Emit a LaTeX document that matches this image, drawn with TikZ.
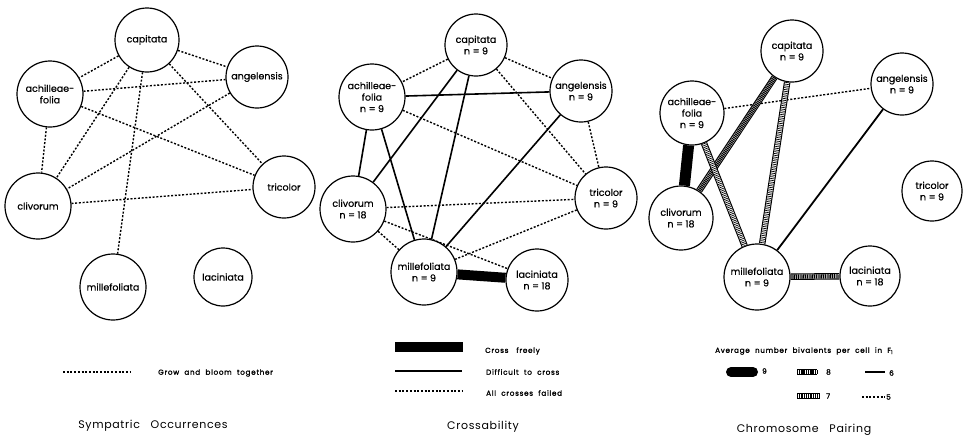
\documentclass[tikz,border=0pt]{standalone}
\usepackage{fontspec}
\setmainfont{Poppins}
\newfontfamily\labfont{Poppins}[FakeBold=0.6]
\newfontfamily\legfont{Poppins}[LetterSpace=6]
\newfontfamily\legbfont{Poppins}[LetterSpace=10,FakeBold=1.6]
\begin{document}
\begin{tikzpicture}[x=1pt,y=-1pt,
  sp/.style={circle,draw,line width=1.2pt,fill=white,inner sep=0pt,align=center,
    font=\labfont\fontsize{9.5}{11.5}\selectfont,minimum size=#1},
  dot/.style={line width=1.4pt,dash pattern=on 2pt off 1.7pt},
  diff/.style={line width=1.6pt},
  free/.style={line width=10pt},
  hatchA/.style={line width=6.5pt,draw=black,
    postaction={draw=white,line width=4.3pt},
    postaction={draw=black,line width=4.3pt,dash pattern=on 0.7pt off 1.1pt}},
  hatchB/.style={line width=6.5pt,draw=black,
    postaction={draw=white,line width=4.3pt},
    postaction={draw=black,line width=4.3pt,dash pattern=on 1.1pt off 0.7pt}},
  leg/.style={font=\legbfont\fontsize{7.2}{8}\selectfont,anchor=west,inner sep=0pt},
  ttl/.style={font=\legfont\fontsize{11}{13}\selectfont,inner sep=0pt}
]
\useasboundingbox (0,0) rectangle (973,440);

% ---------- Panel 1: Sympatric occurrences ----------
\node[sp=64pt] (a1) at (147,40) {capitata};
\node[sp=62pt] (b1) at (257,77) {angelensis};
\node[sp=66pt] (c1) at (50,94) {achilleae-\\folia};
\node[sp=62pt] (d1) at (284,187) {tricolor};
\node[sp=66pt] (e1) at (38,206) {clivorum};
\node[sp=66pt] (f1) at (113,287) {millefoliata};
\node[sp=58pt] (g1) at (223,277) {laciniata};
\draw[dot] (a1) -- (c1);
\draw[dot] (a1) -- (b1);
\draw[dot] (a1) -- (d1);
\draw[dot] (a1) -- (e1);
\draw[dot] (a1) -- (f1);
\draw[dot] (c1) -- (b1);
\draw[dot] (c1) -- (d1);
\draw[dot] (c1) -- (e1);
\draw[dot] (b1) -- (e1);
\draw[dot] (e1) -- (d1);
\coordinate (l1a) at (63,372);
\coordinate (l1b) at (130,372);
\draw[dot] (l1a) -- (l1b);
\node[leg] (l1t) at (158,373) {Grow\ \ and\ \ bloom\ \ together};
\node[ttl] (t1) at (153,426) {Sympatric\ \ \ Occurrences};

% ---------- Panel 2: Crossability ----------
\node[sp=62pt] (a2) at (476,45) {capitata\\n = 9};
\node[sp=62pt] (b2) at (581,91) {angelensis\\n = 9};
\node[sp=66pt] (c2) at (372,97) {achilleae-\\folia\\n = 9};
\node[sp=62pt] (d2) at (606,198) {tricolor\\n = 9};
\node[sp=66pt] (e2) at (353,209) {clivorum\\n = 18};
\node[sp=66pt] (f2) at (424,272) {millefoliata\\n = 9};
\node[sp=62pt] (g2) at (537,280) {laciniata\\n = 18};
\draw[dot] (a2) -- (c2);
\draw[dot] (a2) -- (b2);
\draw[dot] (a2) -- (d2);
\draw[dot] (c2) -- (d2);
\draw[dot] (b2) -- (d2);
\draw[dot] (e2) -- (d2);
\draw[dot] (e2) -- (f2);
\draw[dot] (e2) -- (g2);
\draw[dot] (d2) -- (f2);
\draw[diff] (c2) -- (b2);
\draw[diff] (c2) -- (e2);
\draw[diff] (c2) -- (f2);
\draw[diff] (a2) -- (e2);
\draw[diff] (a2) -- (f2);
\draw[diff] (b2) -- (f2);
\draw[free] (f2) -- (g2);
\coordinate (l2a1) at (395,347);
\coordinate (l2b1) at (463,347);
\coordinate (l2a2) at (395,371);
\coordinate (l2b2) at (462,371);
\coordinate (l2a3) at (395,391);
\coordinate (l2b3) at (462,391);
\draw[free] (l2a1) -- (l2b1);
\draw[diff] (l2a2) -- (l2b2);
\draw[dot] (l2a3) -- (l2b3);
\node[leg] (l2t1) at (485,351) {Cross\ \ \ freely};
\node[leg] (l2t2) at (486,372) {Difficult\ \ to\ \ cross};
\node[leg] (l2t3) at (486,393) {All\ \ crosses\ \ failed};
\node[ttl] (t2) at (483,427) {Crossability};

% ---------- Panel 3: Chromosome pairing ----------
\node[sp=62pt] (a3) at (792,51) {capitata\\n = 9};
\node[sp=62pt] (b3) at (902,84) {angelensis\\n = 9};
\node[sp=64pt] (c3) at (692,113) {achilleae-\\folia\\n = 9};
\node[sp=64pt] (e3) at (681,218) {clivorum\\n = 18};
\node[sp=60pt] (d3) at (932,191) {tricolor\\n = 9};
\node[sp=66pt] (f3) at (757,277) {millefoliata\\n = 9};
\node[sp=60pt] (g3) at (870,276) {laciniata\\n = 18};
\draw[free,line width=11pt] (c3) -- (e3);
\draw[dot] (c3) -- (b3);
\draw[hatchB] (a3) -- (e3);
\draw[hatchA] (a3) -- (f3);
\draw[hatchA] (c3) -- (f3);
\draw[diff,line width=1.8pt] (b3) -- (f3);
\draw[hatchB] (f3) -- (g3);
\node[leg] (l3h) at (715,351) {Average\ \ number\ \ bivalents\ \ per\ \ cell\ \ in\ \ F\textsubscript{1}};
\coordinate (l3a9) at (731,372);
\coordinate (l3b9) at (753,372);
\draw[line width=10pt,line cap=round] (l3a9) -- (l3b9);
\node[leg] (l3t9) at (762,371) {9};
\coordinate (l3a8) at (797,372);
\coordinate (l3b8) at (817,372);
\draw[hatchB] (l3a8) -- (l3b8);
\node[leg] (l3t8) at (826,372) {8};
\coordinate (l3a6) at (865,372);
\coordinate (l3b6) at (885,372);
\draw[line width=2.4pt] (l3a6) -- (l3b6);
\node[leg] (l3t6) at (889,373) {6};
\coordinate (l3a7) at (797,396);
\coordinate (l3b7) at (820,396);
\draw[hatchA] (l3a7) -- (l3b7);
\node[leg] (l3t7) at (826,396) {7};
\coordinate (l3a5) at (862,397);
\coordinate (l3b5) at (885,397);
\draw[dot] (l3a5) -- (l3b5);
\node[leg] (l3t5) at (886,397) {5};
\node[ttl] (t3) at (804,430) {Chromosome\ \ \ Pairing};
\end{tikzpicture}
\end{document}
